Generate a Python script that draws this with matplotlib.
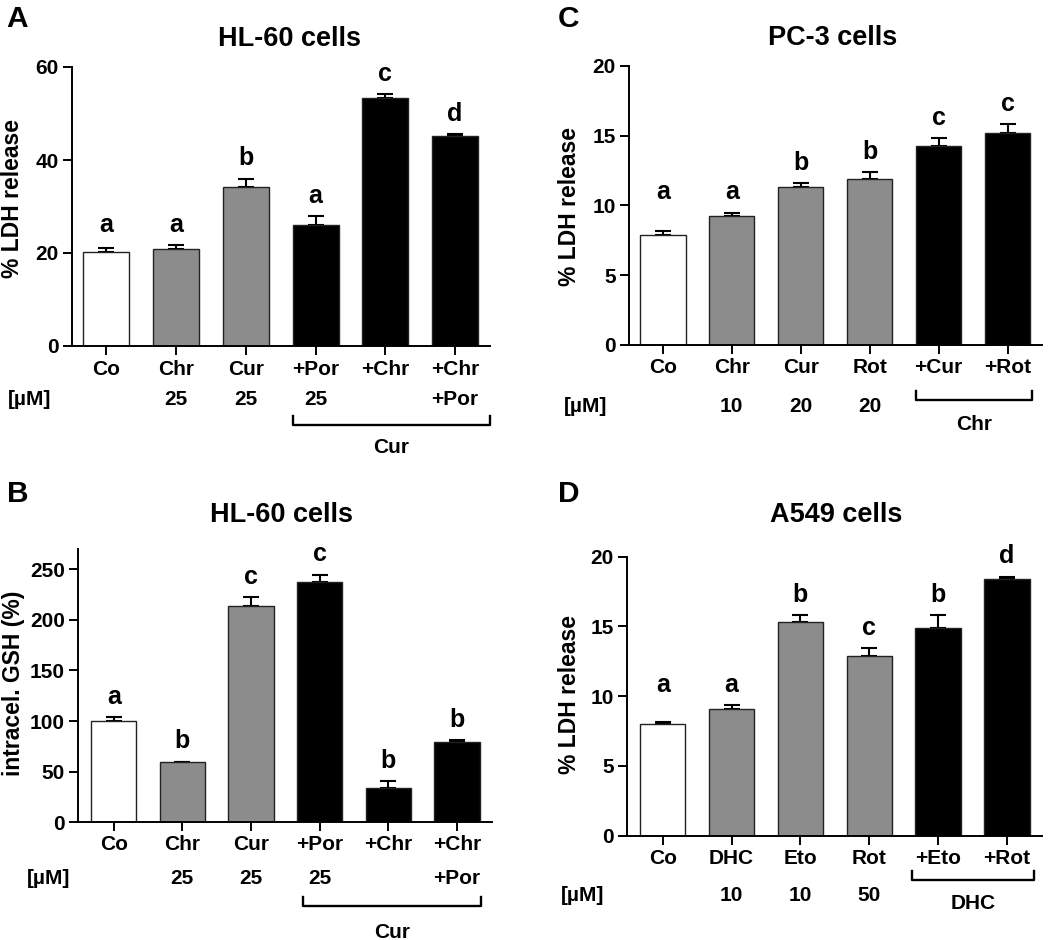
"""Four-panel bar chart: LDH release and intracellular GSH in HL-60, PC-3 and A549 cells"""
import numpy as np
import matplotlib
matplotlib.use('Agg')
from matplotlib import pyplot as plt
from matplotlib.transforms import blended_transform_factory

W, H = 1050, 940
WHITE, GREY, BLACK = 'white', '#8c8c8c', 'black'

# Panel A - HL-60, LDH release
a_names = ['Co', 'Chr', 'Cur', '+Por', '+Chr', '+Chr']
a_doses = ['', '25', '25', '25', '', '+Por']
a_means = [20.2, 20.8, 34.1, 26.1, 53.3, 45.2]
a_sem = [0.8, 0.9, 1.9, 1.8, 0.9, 0.3]
a_letters = ['a', 'a', 'b', 'a', 'c', 'd']
a_fill = [WHITE, GREY, GREY, BLACK, BLACK, BLACK]

# Panel B - HL-60, intracellular GSH
b_names = ['Co', 'Chr', 'Cur', '+Por', '+Chr', '+Chr']
b_doses = ['', '25', '25', '25', '', '+Por']
b_means = [100.0, 59.2, 213.3, 237.3, 34.1, 78.9]
b_sem = [3.6, 0.7, 8.9, 7.5, 6.6, 2.3]
b_letters = ['a', 'b', 'c', 'c', 'b', 'b']
b_fill = [WHITE, GREY, GREY, BLACK, BLACK, BLACK]

# Panel C - PC-3, LDH release
c_names = ['Co', 'Chr', 'Cur', 'Rot', '+Cur', '+Rot']
c_doses = ['', '10', '20', '20', '', '']
c_means = [7.86, 9.24, 11.33, 11.86, 14.24, 15.16]
c_sem = [0.28, 0.24, 0.24, 0.52, 0.60, 0.67]
c_letters = ['a', 'a', 'b', 'b', 'c', 'c']
c_fill = [WHITE, GREY, GREY, GREY, BLACK, BLACK]

# Panel D - A549, LDH release
d_names = ['Co', 'DHC', 'Eto', 'Rot', '+Eto', '+Rot']
d_doses = ['', '10', '10', '50', '', '']
d_means = [7.99, 9.06, 15.34, 12.86, 14.89, 18.40]
d_sem = [0.18, 0.29, 0.50, 0.57, 0.91, 0.17]
d_letters = ['a', 'a', 'b', 'c', 'b', 'd']
d_fill = [WHITE, GREY, GREY, GREY, BLACK, BLACK]

plt.rcParams['font.family'] = ['Liberation Sans', 'DejaVu Sans']
plt.rcParams['font.weight'] = 'bold'


def fx(px):
    return px / W


def fy(py):
    return 1 - py / H


def draw(fig, names, doses, means, sem, letters, fill, tag, title, ylabel, group, lay):
    left, top, right, bottom = lay['box']
    ax = fig.add_axes([fx(left), fy(bottom), (right - left) / W, (bottom - top) / H])
    x = np.arange(len(names))
    ax.bar(x, means, width=0.66, color=fill, edgecolor='#222222', linewidth=1.0, zorder=2)
    ax.errorbar(x, means, yerr=[np.zeros(len(x)), sem], fmt='none', ecolor='black',
                elinewidth=1.5, capsize=6, capthick=1.5, zorder=1)
    ax.set_xlim(*lay['xlim'])
    ax.set_ylim(0, lay['ymax'])
    ax.set_yticks(lay['yticks'])
    ax.set_xticks(x, names)
    ax.spines[['top', 'right']].set_visible(False)
    ax.spines[['left', 'bottom']].set_linewidth(1.4)
    ax.tick_params(direction='out', length=6.5, width=1.4, labelsize=15)
    ax.tick_params(axis='x', pad=lay['xpad'])
    ax.tick_params(axis='y', pad=3.0)

    # significance letters; control and first treatment share one line
    tops = np.array(means) + np.array(sem)
    if lay['pair']:
        tops[0] = tops[1] = max(tops[0], tops[1])
    for xi, ti, s in zip(x, tops, letters):
        ax.annotate(s, (xi, ti), xytext=(0, 9.5), textcoords='offset points',
                    ha='center', va='baseline', fontsize=18)

    # concentration row, bracket and group label under the axis
    tr = blended_transform_factory(ax.transData, fig.transFigure)
    for xi, d in zip(x, doses):
        ax.text(xi, fy(lay['dose_y']), d, transform=tr, ha='center', va='baseline', fontsize=15)
    fig.text(fx(lay['um_x']), fy(lay['dose_y']), '[µM]', ha='center', va='baseline', fontsize=15)
    x0, x1 = lay['bracket']
    yb = fy(lay['bracket_y'])
    ye = fy(lay['bracket_y'] - 9)
    ax.plot([x0, x0, x1, x1], [ye, yb, yb, ye], transform=tr, color='black', lw=1.7, clip_on=False)
    ax.text((x0 + x1) / 2, fy(lay['group_y']), group, transform=tr,
            ha='center', va='baseline', fontsize=15)

    fig.text(fx(lay['title'][0]), fy(lay['title'][1]), title, ha='center', va='baseline', fontsize=19.5)
    fig.text(fx(lay['tag'][0]), fy(lay['tag'][1]), tag, ha='left', va='baseline', fontsize=21.5)
    fig.text(fx(lay['ylabel'][0]), fy(lay['ylabel'][1]), ylabel, rotation=90,
             ha='center', va='center', fontsize=16.5)
    return ax


fig = plt.figure(figsize=(W / 100, H / 100), dpi=100)

draw(fig, a_names, a_doses, a_means, a_sem, a_letters, a_fill, 'A', 'HL-60 cells', '% LDH release', 'Cur',
     dict(box=(72, 67, 490, 346), xlim=(-0.49, 5.5), ymax=60, yticks=[0, 20, 40, 60], xpad=3.8,
          dose_y=405, um_x=30, bracket=(2.67, 5.5), bracket_y=425, group_y=452.7,
          title=(290, 46), tag=(6, 27), ylabel=(13, 198), pair=True))

draw(fig, b_names, b_doses, b_means, b_sem, b_letters, b_fill, 'B', 'HL-60 cells', 'intracel. GSH (%)', 'Cur',
     dict(box=(78, 549, 492, 822.3), xlim=(-0.52, 5.51), ymax=270, yticks=[0, 50, 100, 150, 200, 250], xpad=2.9,
          dose_y=884, um_x=49, bracket=(2.75, 5.35), bracket_y=906, group_y=938,
          title=(282, 521.7), tag=(7, 502), ylabel=(14, 683), pair=False))

draw(fig, c_names, c_doses, c_means, c_sem, c_letters, c_fill, 'C', 'PC-3 cells', '% LDH release', 'Chr',
     dict(box=(629, 65.7, 1042, 345), xlim=(-0.49, 5.5), ymax=20, yticks=[0, 5, 10, 15, 20], xpad=2.8,
          dose_y=411.7, um_x=586, bracket=(3.67, 5.35), bracket_y=400, group_y=430,
          title=(833, 45), tag=(558, 27), ylabel=(569, 206), pair=True))

draw(fig, d_names, d_doses, d_means, d_sem, d_letters, d_fill, 'D', 'A549 cells', '% LDH release', 'DHC',
     dict(box=(627, 556.7, 1042, 835.7), xlim=(-0.52, 5.51), ymax=20, yticks=[0, 5, 10, 15, 20], xpad=2.8,
          dose_y=900.7, um_x=583, bracket=(3.62, 5.4), bracket_y=880, group_y=909.3,
          title=(836, 521.7), tag=(558, 502), ylabel=(570, 694), pair=True))

fig.savefig('out.png', dpi=100)
